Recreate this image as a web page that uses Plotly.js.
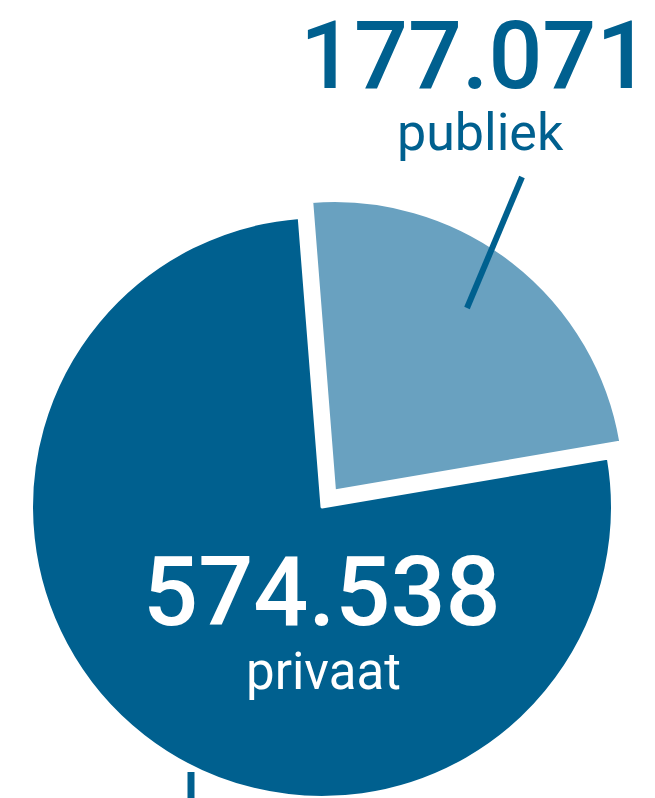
<!DOCTYPE html>
<html>
<head>
<meta charset="utf-8">
<script src="https://cdn.plot.ly/plotly-3.0.1.min.js"></script>
<style>
  html, body { margin: 0; padding: 0; background: #ffffff; overflow: hidden; }
  #chart { width: 655px; height: 830px; }
</style>
</head>
<body>
<div id="chart"></div>
<script>
const labels = ["publiek", "privaat"];
const values = [177071, 574538];
const sliceColors = ["#69a1c0", "#00608f"];
const pulls = [0.07, 0];

const DARK = "#00608f";
const FONT = "Roboto, 'Open Sans', sans-serif";
const W = 655;
const H = 830;

// Dutch thousands separator: 177071 -> "177.071"
function formatNumber(value) {
  return String(Math.round(value)).replace(/\B(?=(\d{3})+(?!\d))/g, ".");
}

function px(x) {
  return x / W;
}

function py(y) {
  return 1 - y / H;
}

function main() {
  const trace = {
    type: "pie",
    labels: labels,
    values: values,
    sort: false,
    direction: "clockwise",
    rotation: -4.5,
    pull: pulls,
    marker: { colors: sliceColors, line: { color: "#ffffff", width: 3 } },
    textinfo: "none",
    hoverinfo: "skip",
    showlegend: false,
    domain: { x: [0.0171, 0.9661], y: [0.0147, 0.7636] },
  };

  const annotations = [
    { x: px(475), y: py(55), text: formatNumber(values[0]), size: 95, weight: 500, color: DARK },
    { x: px(480), y: py(132), text: labels[0], size: 52, weight: 400, color: DARK },
    { x: px(322), y: py(592), text: formatNumber(values[1]), size: 97, weight: 500, color: "#ffffff" },
    { x: px(323), y: py(671), text: labels[1], size: 51, weight: 400, color: "#ffffff" },
  ].map((a) => ({
    x: a.x,
    y: a.y,
    xref: "paper",
    yref: "paper",
    xanchor: "center",
    yanchor: "middle",
    showarrow: false,
    text: a.text,
    font: { family: FONT, size: a.size, weight: a.weight, color: a.color },
  }));

  const shapes = [
    {
      type: "line",
      xref: "paper",
      yref: "paper",
      x0: px(522),
      y0: py(177),
      x1: px(467),
      y1: py(308),
      line: { color: DARK, width: 6 },
      layer: "above",
    },
    {
      type: "line",
      xref: "paper",
      yref: "paper",
      x0: px(191),
      y0: py(772),
      x1: px(191),
      y1: 0,
      line: { color: DARK, width: 7 },
      layer: "below",
    },
  ];

  Plotly.newPlot(
    "chart",
    [trace],
    {
      width: W,
      height: H,
      margin: { l: 0, r: 0, t: 0, b: 0 },
      paper_bgcolor: "#ffffff",
      plot_bgcolor: "#ffffff",
      annotations: annotations,
      shapes: shapes,
    },
    { displayModeBar: false, staticPlot: true },
  );
}

main();
</script>
</body>
</html>
